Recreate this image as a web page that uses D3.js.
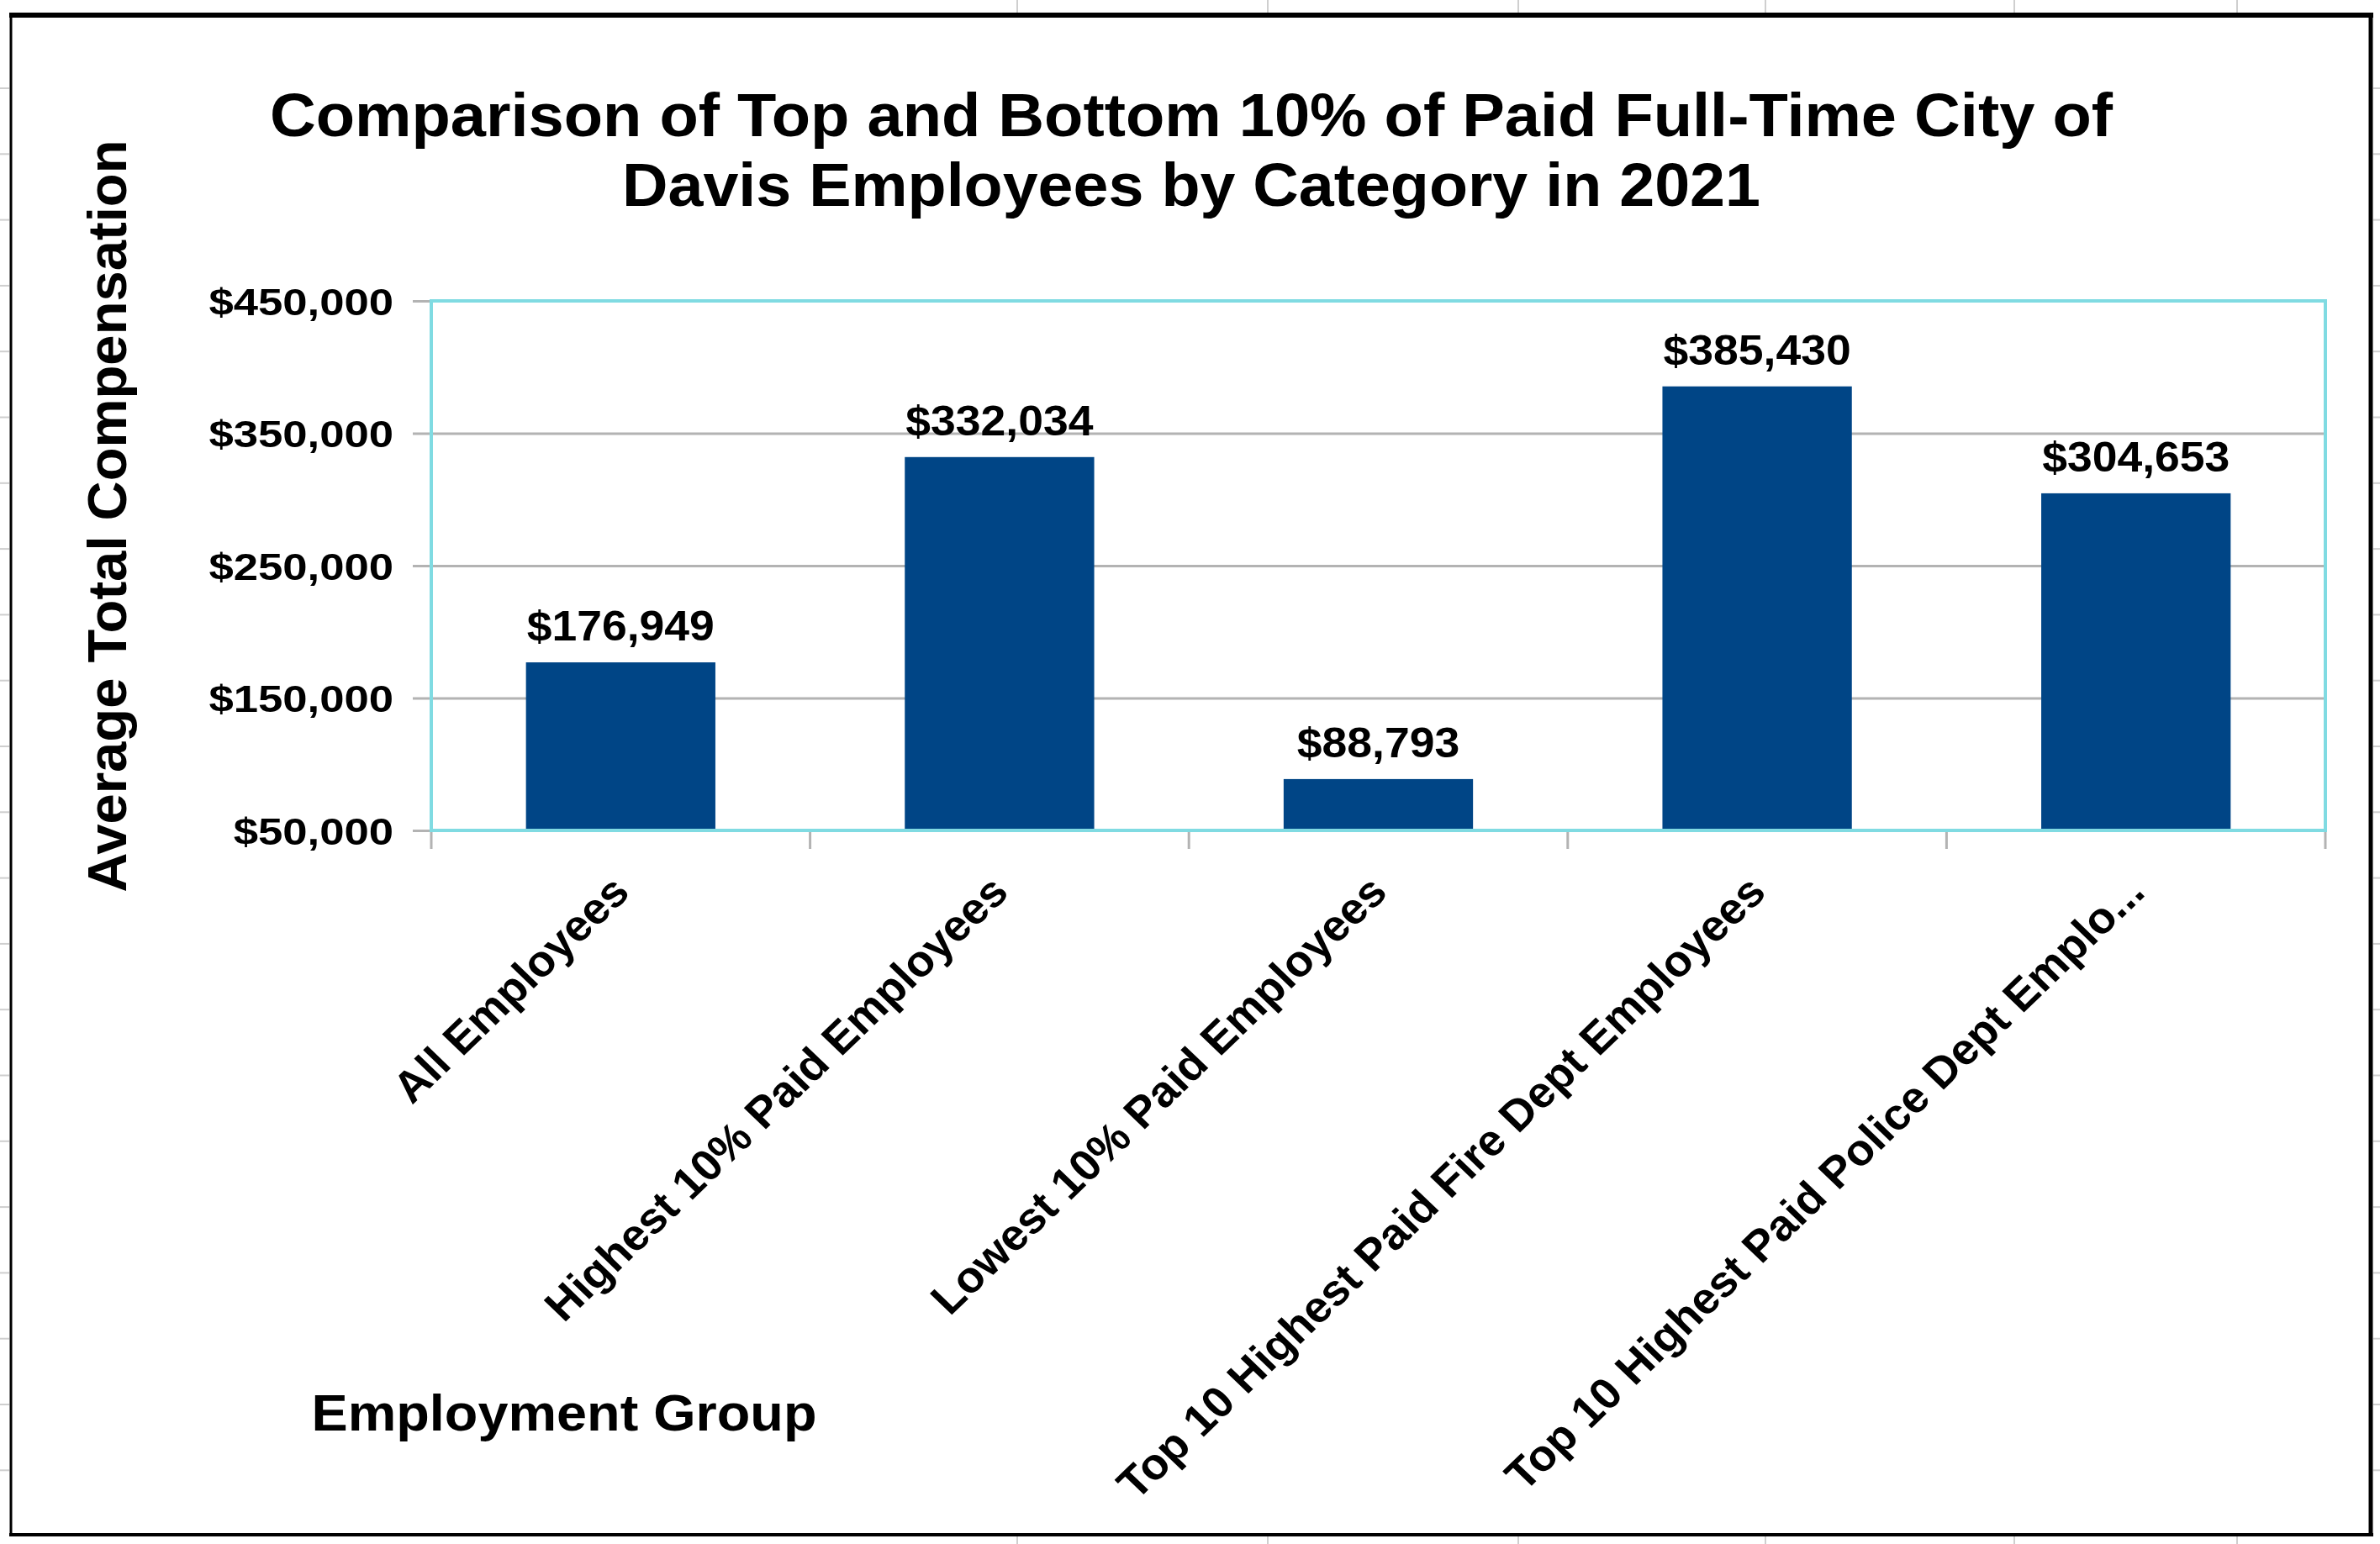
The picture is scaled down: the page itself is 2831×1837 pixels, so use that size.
<!DOCTYPE html>
<html>
<head>
<meta charset="utf-8">
<script src="https://cdn.jsdelivr.net/npm/d3@7"></script>
<style>
	body { margin: 0; background: #fff; }
	text { font-family: "Liberation Sans", Arial, sans-serif; font-weight: bold; fill: #000; }
</style>
</head>
<body>
<div id="mainDiv"></div>
<script>
// Chart data
const categories = [
	"All Employees",
	"Highest 10% Paid Employees",
	"Lowest 10% Paid Employees",
	"Top 10 Highest Paid Fire Dept Employees",
	"Top 10 Highest Paid Police Dept Emplo..."
];
const compensation = [176949, 332034, 88793, 385430, 304653];
const yTicks = [50000, 150000, 250000, 350000, 450000];
const titleLines = [
	"Comparison of Top and Bottom 10% of Paid Full-Time City of",
	"Davis Employees by Category in 2021"
];
const yTitle = "Average Total Compensation";
const xTitle = "Employment Group";

// Page / plot dimensions
let width =		2831,
	height =	1837,
	margin =	{
					top: 358,
					right: 65,
					bottom: 849,
					left: 513
				},
	plotW =		width - margin.left - margin.right,
	plotH =		height - margin.top - margin.bottom;

let teal = "#80dbe2",
	grey = "#b3b3b3",
	barBlue = "#004586";

let svg =	d3.select("#mainDiv").append("svg")
				.attr("width", width)
				.attr("height", height)
				.style("display", "block"),
	g	=	svg.append("g")
				.attr("transform", "translate(" + margin.left + "," + margin.top + ")");

// Spreadsheet cell lines peeking out behind the chart frame
let deco = svg.append("g").attr("stroke", "#cfcfcf").attr("stroke-width", 2);
[1210, 1508, 1806, 2100, 2396, 2661].forEach(function(x) {
	deco.append("line").attr("x1", x).attr("x2", x).attr("y1", 0).attr("y2", 16);
	deco.append("line").attr("x1", x).attr("x2", x).attr("y1", 1828).attr("y2", height);
});
d3.range(105, 1800, 78.3).forEach(function(y) {
	deco.append("line").attr("x1", 0).attr("x2", 11).attr("y1", y).attr("y2", y);
	deco.append("line").attr("x1", 2823).attr("x2", width).attr("y1", y).attr("y2", y);
});

// Outer black frame
svg.append("line").attr("x1", 11).attr("x2", 2823).attr("y1", 18).attr("y2", 18)
	.attr("stroke", "#000").attr("stroke-width", 6);
svg.append("line").attr("x1", 13).attr("x2", 13).attr("y1", 16).attr("y2", 1828)
	.attr("stroke", "#000").attr("stroke-width", 3);
svg.append("line").attr("x1", 2820).attr("x2", 2820).attr("y1", 16).attr("y2", 1828)
	.attr("stroke", "#000").attr("stroke-width", 5);
svg.append("line").attr("x1", 11).attr("x2", 2823).attr("y1", 1826).attr("y2", 1826)
	.attr("stroke", "#000").attr("stroke-width", 4);

// Scales
let x = d3.scaleBand()
			.domain(categories)
			.range([0, plotW])
			.paddingInner(0.5)
			.paddingOuter(0.25);

let y = d3.scaleLinear()
			.domain([50000, 450000])
			.range([plotH, 0]);

// Horizontal gridlines
g.append("g")
	.attr("class", "grid")
	.call(d3.axisLeft(y).tickValues(yTicks).tickSize(-plotW).tickFormat(""))
	.call(function(s) {
		s.select(".domain").remove();
		s.selectAll("line").attr("stroke", grey).attr("stroke-width", 3);
	});

// Y axis ticks + labels
g.append("g")
	.attr("class", "y-axis")
	.call(d3.axisLeft(y).tickValues(yTicks).tickSize(22).tickPadding(0).tickFormat(d3.format("$,")))
	.call(function(s) {
		s.select(".domain").remove();
		s.selectAll("line").attr("stroke", grey).attr("stroke-width", 3);
		s.selectAll("text")
			.attr("x", -45 / 1.17)
			.attr("dy", "0.36em")
			.attr("transform", "scale(1.17,1)")
			.style("font-size", "45px");
	});

// Bars
g.selectAll(".bar")
	.data(compensation)
	.enter().append("rect")
		.attr("class", "bar")
		.attr("x", function(d, i) { return x(categories[i]); })
		.attr("y", function(d) { return y(d); })
		.attr("width", x.bandwidth())
		.attr("height", function(d) { return plotH - y(d); })
		.attr("fill", barBlue);

// Value labels above bars
g.selectAll(".val")
	.data(compensation)
	.enter().append("text")
		.attr("class", "val")
		.attr("transform", function(d, i) {
			return "translate(" + (x(categories[i]) + x.bandwidth() / 2) + "," + (y(d) - 26) + ") scale(1.07,1)";
		})
		.attr("text-anchor", "middle")
		.style("font-size", "50px")
		.text(function(d) { return d3.format("$,")(d); });

// Plot area border (teal)
g.append("rect")
	.attr("x", 0)
	.attr("y", 0)
	.attr("width", plotW)
	.attr("height", plotH)
	.attr("fill", "none")
	.attr("stroke", teal)
	.attr("stroke-width", 4);

// Category boundary ticks below the axis
let step = x.step(),
	x0 = x(categories[0]) - step * 0.25;
g.selectAll(".xtick")
	.data(d3.range(categories.length + 1))
	.enter().append("line")
		.attr("class", "xtick")
		.attr("x1", function(i) { return x0 + i * step; })
		.attr("x2", function(i) { return x0 + i * step; })
		.attr("y1", plotH + 2)
		.attr("y2", plotH + 22)
		.attr("stroke", grey)
		.attr("stroke-width", 3);

// X axis category labels (rotated)
g.append("g")
	.attr("class", "x-axis")
	.attr("transform", "translate(0," + plotH + ")")
	.call(d3.axisBottom(x).tickSize(0))
	.call(function(s) {
		s.select(".domain").remove();
		s.selectAll("text")
			.attr("x", 0)
			.attr("y", 0)
			.attr("dy", 0)
			.attr("text-anchor", "end")
			.attr("transform", "translate(13,76) scale(1.04,1) rotate(-45)")
			.style("font-size", "52px");
	});

// Title
svg.selectAll(".title")
	.data(titleLines)
	.enter().append("text")
		.attr("class", "title")
		.attr("x", 1417)
		.attr("y", function(d, i) { return 162 + i * 83; })
		.attr("text-anchor", "middle")
		.attr("textLength", function(d, i) { return i === 0 ? 2192 : 1354; })
		.attr("lengthAdjust", "spacingAndGlyphs")
		.style("font-size", "73px")
		.text(function(d) { return d; });

// Y axis title
svg.append("text")
	.attr("transform", "translate(150,614) rotate(-90)")
	.attr("text-anchor", "middle")
	.attr("textLength", 895)
	.attr("lengthAdjust", "spacingAndGlyphs")
	.style("font-size", "64px")
	.text(yTitle);

// X axis title
svg.append("text")
	.attr("x", 671)
	.attr("y", 1702)
	.attr("text-anchor", "middle")
	.attr("textLength", 601)
	.attr("lengthAdjust", "spacingAndGlyphs")
	.style("font-size", "61px")
	.text(xTitle);
</script>
</body>
</html>
